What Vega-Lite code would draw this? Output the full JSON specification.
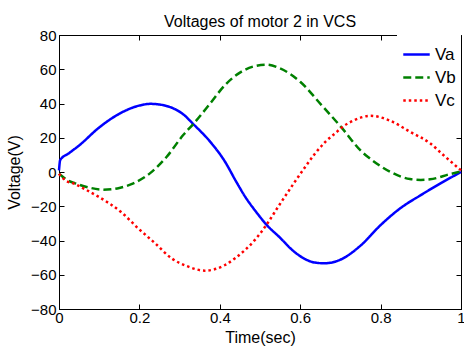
{
  "$schema": "https://vega.github.io/schema/vega-lite/v6.json",
  "width": 402,
  "height": 274,
  "autosize": {"type": "none"},
  "padding": {"left": 59, "top": 35, "right": 3, "bottom": 41},
  "background": "white",
  "title": {"text": "Voltages of motor 2 in VCS", "font": "Liberation Sans", "fontSize": 16, "fontWeight": "normal", "color": "black", "offset": 4, "dy": 6, "frame": "group", "anchor": "middle"},
  "config": {
    "view": {"stroke": "black", "strokeWidth": 1},
    "axis": {
      "labelFont": "Liberation Sans", "labelFontSize": 15, "labelColor": "black",
      "titleFont": "Liberation Sans", "titleFontSize": 16, "titleFontWeight": "normal", "titleColor": "black",
      "domainColor": "black", "tickColor": "black", "tickSize": -5, "grid": false,
      "labelFlush": false, "labelOverlap": false, "labelBound": false
    },
    "legend": {
      "labelFont": "Liberation Sans", "labelFontSize": 17, "labelColor": "black"
    }
  },
  "data": {"values": [
    {"t": 0, "V": 1, "s": "Va"}, {"t": 0.003, "V": 7, "s": "Va"}, {"t": 0.025, "V": 11, "s": "Va"}, {"t": 0.05, "V": 15.5, "s": "Va"},
    {"t": 0.1, "V": 26, "s": "Va"}, {"t": 0.15, "V": 34, "s": "Va"}, {"t": 0.2, "V": 38.8, "s": "Va"}, {"t": 0.228, "V": 39.8, "s": "Va"},
    {"t": 0.26, "V": 39, "s": "Va"}, {"t": 0.284, "V": 37.2, "s": "Va"}, {"t": 0.31, "V": 33.5, "s": "Va"}, {"t": 0.334, "V": 28, "s": "Va"},
    {"t": 0.376, "V": 17.7, "s": "Va"}, {"t": 0.413, "V": 6, "s": "Va"}, {"t": 0.44, "V": -5.3, "s": "Va"}, {"t": 0.463, "V": -14.4, "s": "Va"},
    {"t": 0.49, "V": -23.2, "s": "Va"}, {"t": 0.517, "V": -31, "s": "Va"}, {"t": 0.55, "V": -38.4, "s": "Va"}, {"t": 0.579, "V": -45.3, "s": "Va"},
    {"t": 0.61, "V": -50.6, "s": "Va"}, {"t": 0.637, "V": -52.9, "s": "Va"}, {"t": 0.66, "V": -53.3, "s": "Va"}, {"t": 0.68, "V": -52.8, "s": "Va"},
    {"t": 0.7, "V": -51.2, "s": "Va"}, {"t": 0.75, "V": -43, "s": "Va"}, {"t": 0.8, "V": -31, "s": "Va"}, {"t": 0.85, "V": -21, "s": "Va"},
    {"t": 0.9, "V": -13.5, "s": "Va"}, {"t": 0.95, "V": -6.5, "s": "Va"}, {"t": 1.0, "V": 0, "s": "Va"},

    {"t": 0, "V": -1, "s": "Vb"}, {"t": 0.023, "V": -5, "s": "Vb"}, {"t": 0.04, "V": -6.6, "s": "Vb"}, {"t": 0.073, "V": -9, "s": "Vb"},
    {"t": 0.11, "V": -10.3, "s": "Vb"}, {"t": 0.15, "V": -9.3, "s": "Vb"}, {"t": 0.185, "V": -6.6, "s": "Vb"}, {"t": 0.226, "V": -0.8, "s": "Vb"},
    {"t": 0.268, "V": 8.9, "s": "Vb"}, {"t": 0.309, "V": 21.6, "s": "Vb"}, {"t": 0.334, "V": 28, "s": "Vb"}, {"t": 0.376, "V": 40, "s": "Vb"},
    {"t": 0.413, "V": 50.8, "s": "Vb"}, {"t": 0.454, "V": 58.6, "s": "Vb"}, {"t": 0.49, "V": 62, "s": "Vb"}, {"t": 0.515, "V": 62.7, "s": "Vb"},
    {"t": 0.55, "V": 60.5, "s": "Vb"}, {"t": 0.6, "V": 52.7, "s": "Vb"}, {"t": 0.653, "V": 39.1, "s": "Vb"}, {"t": 0.703, "V": 25.9, "s": "Vb"},
    {"t": 0.753, "V": 11.9, "s": "Vb"}, {"t": 0.773, "V": 8, "s": "Vb"}, {"t": 0.823, "V": 0.2, "s": "Vb"}, {"t": 0.873, "V": -4.1, "s": "Vb"},
    {"t": 0.9, "V": -4.6, "s": "Vb"}, {"t": 0.923, "V": -4.3, "s": "Vb"}, {"t": 0.973, "V": -1.2, "s": "Vb"}, {"t": 1.0, "V": 0.3, "s": "Vb"},

    {"t": 0, "V": -1, "s": "Vc"}, {"t": 0.015, "V": -4.7, "s": "Vc"}, {"t": 0.04, "V": -7, "s": "Vc"}, {"t": 0.065, "V": -10.1, "s": "Vc"},
    {"t": 0.098, "V": -14.4, "s": "Vc"}, {"t": 0.156, "V": -23.7, "s": "Vc"}, {"t": 0.197, "V": -32.9, "s": "Vc"}, {"t": 0.239, "V": -41.6, "s": "Vc"},
    {"t": 0.28, "V": -50.4, "s": "Vc"}, {"t": 0.322, "V": -55.3, "s": "Vc"}, {"t": 0.363, "V": -57.6, "s": "Vc"}, {"t": 0.413, "V": -54.3, "s": "Vc"},
    {"t": 0.438, "V": -50.4, "s": "Vc"}, {"t": 0.463, "V": -45.5, "s": "Vc"}, {"t": 0.488, "V": -39.5, "s": "Vc"}, {"t": 0.517, "V": -30.5, "s": "Vc"},
    {"t": 0.546, "V": -20, "s": "Vc"}, {"t": 0.583, "V": -7, "s": "Vc"}, {"t": 0.612, "V": 2.8, "s": "Vc"}, {"t": 0.637, "V": 10.8, "s": "Vc"},
    {"t": 0.662, "V": 17.5, "s": "Vc"}, {"t": 0.687, "V": 22.6, "s": "Vc"}, {"t": 0.703, "V": 25.9, "s": "Vc"}, {"t": 0.736, "V": 30.4, "s": "Vc"},
    {"t": 0.775, "V": 32.8, "s": "Vc"}, {"t": 0.823, "V": 30, "s": "Vc"}, {"t": 0.873, "V": 23.5, "s": "Vc"}, {"t": 0.923, "V": 16.8, "s": "Vc"},
    {"t": 0.956, "V": 9.9, "s": "Vc"}, {"t": 1.0, "V": 1, "s": "Vc"}
  ]},
  "layer": [
    {
      "mark": {"type": "line", "strokeWidth": 2.5, "interpolate": "monotone"},
      "encoding": {
        "x": {"field": "t", "type": "quantitative", "scale": {"domain": [0, 1], "nice": false},
              "axis": {"orient": "bottom", "title": "Time(sec)", "values": [0, 0.2, 0.4, 0.6, 0.8, 1], "format": "~g", "labelPadding": 6, "titlePadding": 4}},
        "y": {"field": "V", "type": "quantitative", "scale": {"domain": [-80, 80], "nice": false},
              "axis": {"orient": "left", "title": "Voltage(V)", "values": [-80, -60, -40, -20, 0, 20, 40, 60, 80], "format": "d", "labelPadding": 8, "titlePadding": 8}},
        "color": {"field": "s", "type": "nominal", "title": null,
                  "scale": {"domain": ["Va", "Vb", "Vc"], "range": ["#0000ff", "#008000", "#ff0000"]},
                  "legend": {"orient": "top-right", "offset": 0, "padding": 5, "fillColor": "white", "symbolType": "stroke", "symbolSize": 700, "symbolStrokeWidth": 2.5, "rowPadding": 0, "labelOffset": 4}},
        "strokeDash": {"field": "s", "type": "nominal", "title": null,
                       "scale": {"domain": ["Va", "Vb", "Vc"], "range": [[1, 0], [8, 4], [2.5, 3]]}}
      }
    },
    {
      "mark": {"type": "line", "opacity": 0},
      "encoding": {
        "x": {"field": "t", "type": "quantitative", "axis": {"orient": "top", "title": null, "labels": false, "domain": false, "values": [0, 0.2, 0.4, 0.6, 0.8, 1]}},
        "y": {"field": "V", "type": "quantitative", "axis": {"orient": "right", "title": null, "labels": false, "domain": false, "values": [-80, -60, -40, -20, 0, 20, 40, 60, 80]}},
        "detail": {"field": "s", "type": "nominal"}
      }
    }
  ],
  "resolve": {"axis": {"x": "independent", "y": "independent"}}
}
